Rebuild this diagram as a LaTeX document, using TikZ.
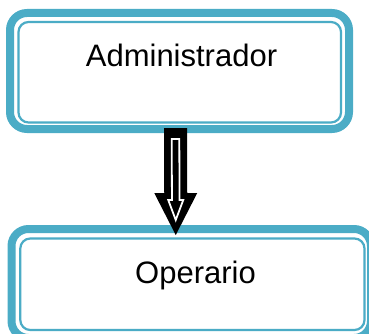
\documentclass[tikz,border=0pt]{standalone}
\usepackage{fontspec}
\setmainfont{Liberation Sans}
\usetikzlibrary{calc}
\definecolor{aqua}{HTML}{4BACC6}
\tikzset{
  roleframe/.style={draw=aqua, line width=8pt, rounded corners=17pt, fill=white,
    inner sep=0pt, outer sep=0pt, rectangle},
  roleinner/.style={draw=aqua, line width=2.2pt, rounded corners=10pt},
  rolelabel/.style={font=\fontsize{31}{37}\selectfont, anchor=base, inner sep=0pt},
  arrowbody/.style={fill=black},
  arrowcore/.style={draw=white, fill=black, line width=1.8pt, line join=miter},
}
\begin{document}
\begin{tikzpicture}[x=1pt,y=-1pt]
\useasboundingbox (0,0) rectangle (369,334);

% role boxes: thick outer frame with a thin inner frame
\node[roleframe, minimum width=339pt, minimum height=116pt] (admin) at (179.5,71) {};
\draw[roleinner] ($(admin.north west)+(8.5,9)$) rectangle ($(admin.south east)+(-8,-6.5)$);
\node[rolelabel] (admintxt) at (181.5,66.7) {Administrador};

\node[roleframe, minimum width=359.5pt, minimum height=109pt] (oper) at (191.25,283.5) {};
\draw[roleinner] ($(oper.north west)+(8.8,9.5)$) rectangle ($(oper.south east)+(-6.5,-8)$);
\node[rolelabel] (opertxt) at (195.5,283) {Operario};

% block arrow from Administrador down to Operario
\coordinate (s) at ($(admin.south)+(-4,-1)$);
\coordinate (t) at ($(oper.north)+(-15.5,6)$);
\fill[arrowbody] ($(s)+(-11.5,0)$) -- ($(s)+(11.5,0)$) -- ($(t)+(11.5,-42)$)
  -- ($(t)+(21.5,-42)$) -- (t) -- ($(t)+(-21.5,-42)$) -- ($(t)+(-11.5,-42)$) -- cycle;
\draw[arrowcore] ($(s)+(-3.8,11)$) -- ($(s)+(3.8,11)$) -- ($(t)+(3.8,-35)$)
  -- ($(t)+(7.5,-35)$) -- ($(t)+(0,-15)$) -- ($(t)+(-7.5,-35)$) -- ($(t)+(-3.8,-35)$) -- cycle;
\end{tikzpicture}
\end{document}
